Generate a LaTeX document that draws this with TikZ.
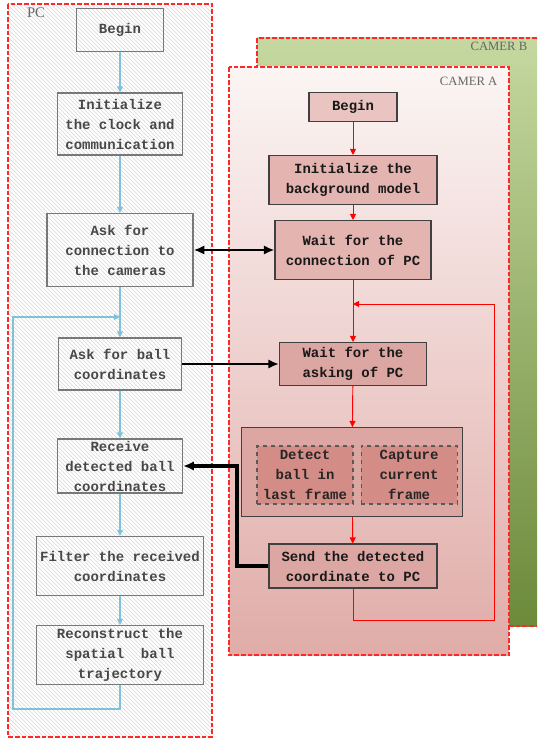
\documentclass[tikz,border=0pt]{standalone}
\usepackage{fontspec}
\setmainfont{Liberation Serif}
\newfontfamily\flowfont{Liberation Mono}
\usetikzlibrary{arrows.meta,positioning,patterns}

\definecolor{pcflow}{RGB}{128,194,218}
\definecolor{pcbord}{RGB}{120,120,120}
\definecolor{pctext}{RGB}{72,72,72}
\definecolor{hatch}{RGB}{214,214,226}
\definecolor{frame}{RGB}{255,40,40}
\definecolor{camtop}{RGB}{251,245,244}
\definecolor{cambot}{RGB}{224,172,168}
\definecolor{greentop}{RGB}{197,216,160}
\definecolor{greenbot}{RGB}{108,138,58}
\definecolor{boxa}{RGB}{233,196,192}
\definecolor{boxb}{RGB}{228,180,176}
\definecolor{boxc}{RGB}{220,166,162}
\definecolor{boxd}{RGB}{212,140,134}

\begin{document}
\begin{tikzpicture}[
      x=0.75pt, y=-0.75pt,
      flow/.style={align=center, inner sep=0pt,
          font=\flowfont\bfseries\fontsize{10.5}{15}\selectfont},
      pcbox/.style={flow, draw=pcbord, line width=1pt, text=pctext},
      cambox/.style={flow, draw=black!75, line width=0.8pt, text=black!90},
      inbox/.style={flow, draw=black!65, dashed, line width=0.8pt, fill=boxd,
          minimum width=72pt, minimum height=43.5pt, text=black!85},
      tag/.style={font=\fontsize{9.5}{11}\selectfont, text=black!60},
      framebox/.style={draw=frame, dash pattern=on 3.5pt off 1.5pt, line width=0.9pt},
      pcarr/.style={draw=pcflow, line width=0.8pt, -{Triangle[length=4.5pt,width=4.5pt]}},
      camarr/.style={draw=red, line width=0.7pt, -{Triangle[length=4.5pt,width=4.5pt]}},
      link/.style={line width=2pt, -{Latex[length=8pt,width=7pt]}},
    ]
    \useasboundingbox (0,0) rectangle (537,741);

    % frames
    \fill[white] (8,4) rectangle (212,737);
    \fill[pattern=north west lines, pattern color=hatch] (8,4) rectangle (212,737);
    \draw[framebox] (8,4) rectangle (212,737);
    \node[tag, font=\fontsize{11}{12}\selectfont] (pctag) at (36,13) {PC};

    \fill[top color=greentop, bottom color=greenbot] (257,38) rectangle (537,626);
    \draw[framebox] (537,38) -- (257,38) -- (257,626) -- (537,626);
    \node[tag, anchor=east] (btag) at (532,46) {CAMER B};

    \fill[top color=camtop, bottom color=cambot] (229,67) rectangle (509,655);
    \draw[framebox] (229,67) rectangle (509,655);
    \node[tag, anchor=east] (atag) at (502,81) {CAMER A};

    % PC side
    \node[pcbox, minimum width=65.25pt, minimum height=32.25pt] (begin) at (120,30) {Begin};
    \node[pcbox, minimum width=93.75pt, minimum height=46.5pt] (init) at (120,124)
        {Initialize\\the clock and\\communication};
    \node[pcbox, minimum width=109.5pt, minimum height=54.75pt] (askconn) at (120,250)
        {Ask for\\connection to\\the cameras};
    \node[pcbox, minimum width=92.25pt, minimum height=39pt] (askball) at (120,364)
        {Ask for ball\\coordinates};
    \node[pcbox, minimum width=93.75pt, minimum height=40.5pt] (receive) at (120,466)
        {Receive\\detected ball\\coordinates};
    \node[pcbox, minimum width=125.25pt, minimum height=44.25pt] (filter) at (120,566)
        {Filter the received\\coordinates};
    \node[pcbox, minimum width=125.25pt, minimum height=44.25pt] (recon) at (120,655)
        {Reconstruct the\\spatial\ \ ball\\trajectory};
    \coordinate (pcjoin) at (120,317);
    \coordinate (pcbot) at (13,709);

    \draw[pcarr] (begin) -- (init);
    \draw[pcarr] (init) -- (askconn);
    \draw[pcarr] (askconn) -- (askball);
    \draw[pcarr] (askball) -- (receive);
    \draw[pcarr] (receive) -- (filter);
    \draw[pcarr] (filter) -- (recon);
    \draw[pcarr] (recon.south) |- (pcbot) |- (pcjoin);

    % camera side
    \node[cambox, fill=boxa, minimum width=66pt, minimum height=21.75pt] (cbegin) at (353,107) {Begin};
    \node[cambox, fill=boxb, minimum width=126pt, minimum height=36.75pt] (cinit) at (353,180)
        {Initialize the\\background model};
    \node[cambox, fill=boxb, minimum width=117pt, minimum height=44.25pt] (cwait) at (353,250)
        {Wait for the\\connection of PC};
    \node[cambox, fill=boxc, minimum width=110.25pt, minimum height=32.25pt] (cask) at (353,364)
        {Wait for the\\asking of PC};
    \node[cambox, fill=boxc, minimum width=165.75pt, minimum height=66.75pt] (cproc) at (352,472) {};
    \node[inbox] (cdetect) at (305,475) {Detect\\ball in\\last frame};
    \node[inbox, right=5.25pt of cdetect] (ccapture) {Capture\\current\\frame};
    \node[cambox, fill=boxc, minimum width=126pt, minimum height=33pt] (csend) at (353,566)
        {Send the detected\\coordinate to PC};
    \coordinate (cjoin) at (353,304);
    \coordinate (cbot) at (494,620);

    \draw[camarr] (cbegin) -- (cinit);
    \draw[camarr] (cinit) -- (cwait);
    \draw[camarr] (cwait) -- (cask);
    \draw[camarr] (cask) -- (cproc);
    \draw[camarr] (cproc) -- (csend);
    \draw[camarr] (csend.south) |- (cbot) |- (cjoin);

    % links between PC and cameras
    \coordinate (sendbend) at (237,466);
    \draw[link, {Latex[length=8pt,width=7pt]}-{Latex[length=8pt,width=7pt]}] (askconn) -- (cwait);
    \draw[link] (askball) -- (cask);
    \draw[link, line width=3pt] (csend.west) -| (sendbend) -- (receive.east);
  \end{tikzpicture}
\end{document}
